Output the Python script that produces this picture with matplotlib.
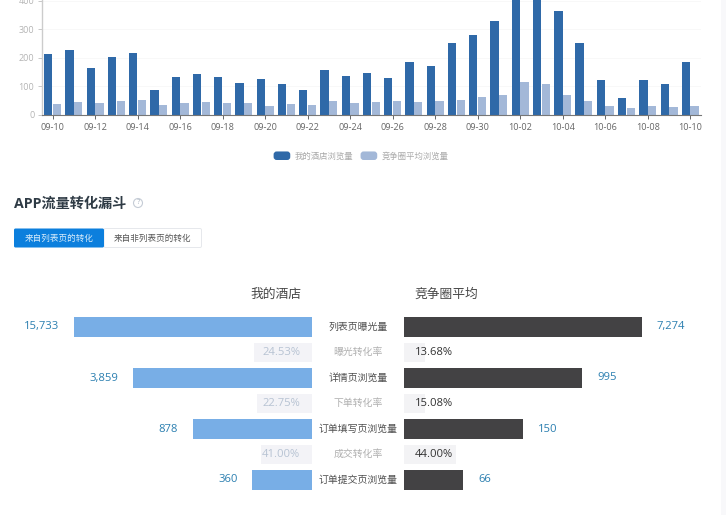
import matplotlib
matplotlib.use("Agg")
import matplotlib.pyplot as plt
from matplotlib.patches import FancyBboxPatch, Rectangle, Circle
from matplotlib.legend_handler import HandlerPatch
import numpy as np

plt.rcParams['font.family'] = ['Open Sans', 'Noto Sans CJK SC', 'DejaVu Sans']

dates = ['09-10','09-11','09-12','09-13','09-14','09-15','09-16','09-17','09-18','09-19','09-20',
         '09-21','09-22','09-23','09-24','09-25','09-26','09-27','09-28','09-29','09-30',
         '10-01','10-02','10-03','10-04','10-05','10-06','10-07','10-08','10-09','10-10']
my_views = [213,228,166,205,219,87,132,143,134,113,126,108,88,156,137,146,130,186,173,251,280,
            329,420,415,365,254,124,58,124,109,186]
comp_views = [40,46,41,49,54,34,43,46,42,43,33,39,36,49,43,46,49,46,50,53,62,
              69,115,108,70,50,32,26,30,27,33]
legend_names = ['我的酒店浏览量', '竞争圈平均浏览量']

stage_names = ['列表页曝光量', '详情页浏览量', '订单填写页浏览量', '订单提交页浏览量']
rate_names = ['曝光转化率', '下单转化率', '成交转化率']
my_counts = ['15,733', '3,859', '878', '360']
comp_counts = ['7,274', '995', '150', '66']
stage_sizes = [4, 3, 2, 1]
my_rates = ['24.53%', '22.75%', '41.00%']
comp_rates = ['13.68%', '15.08%', '44.00%']
my_rate_sizes = [0.98, 0.92, 0.85]
comp_rate_sizes = [0.36, 0.36, 0.88]

W, H = 726, 515
fig = plt.figure(figsize=(W/100, H/100), dpi=100, facecolor='white')

def box(x0, y0, x1, y1):
    return [x0/W, 1-y1/H, (x1-x0)/W, (y1-y0)/H]

class RoundHandler(HandlerPatch):
    def create_artists(self, legend, orig, xd, yd, width, height, fontsize, trans):
        p = FancyBboxPatch((-xd, -yd), width, height, boxstyle='round,pad=0,rounding_size=2.2',
                           fc=orig.get_facecolor(), ec='none', transform=trans)
        return [p]

# overlay in pixel coordinates
bg = fig.add_axes([0, 0, 1, 1], zorder=0)
bg.set_xlim(0, W); bg.set_ylim(H, 0); bg.axis('off')
bg.add_patch(Rectangle((721, 0), 5, H, fc='#f8f8fa', ec='none'))

# daily views
ax = fig.add_axes(box(42, 0, 701, 115), zorder=1)
ax.patch.set_alpha(0)
x = np.arange(len(dates))
b1 = ax.bar(x-0.21, my_views, width=0.39, color='#2F69A8')
b2 = ax.bar(x+0.20, comp_views, width=0.39, color='#A3B8D8')
ax.set_xlim(-0.5, 30.5); ax.set_ylim(0, 403)
ax.set_xticks(x[::2]); ax.set_xticklabels(dates[::2])
ax.set_yticks([0, 100, 200, 300, 400])
ax.tick_params(axis='x', labelsize=6.6, colors='#666666', length=3, width=0.7, pad=3)
ax.tick_params(axis='y', labelsize=6.5, labelcolor='#b4b4b4', color='#c8c8c8', length=3, width=0.7, pad=2.5)
ax.grid(axis='y', color='#f8f8f8', lw=0.7); ax.set_axisbelow(True)
for s in ['top', 'right']:
    ax.spines[s].set_visible(False)
ax.spines['left'].set_color('#cccccc'); ax.spines['left'].set_linewidth(1)
ax.spines['bottom'].set_color('#777777'); ax.spines['bottom'].set_linewidth(0.8)
fig.legend([b1[0], b2[0]], legend_names, loc='center', bbox_to_anchor=(361/W, 1-156/H), ncol=2, frameon=False,
           fontsize=6, labelcolor='#aaaaaa', handlelength=2.0, handleheight=1.2,
           handletextpad=0.5, columnspacing=0.9, borderpad=0, borderaxespad=0,
           handler_map={Rectangle: RoundHandler()})

# title and tabs
bg.text(14, 203.5, 'APP流量转化漏斗', fontsize=10.2, fontweight='bold', color='#2f3b45', va='center', ha='left')
bg.add_patch(Circle((138, 203), 4.5, fc='none', ec='#c5ccd6', lw=0.8))
bg.text(138, 203, '?', fontsize=5.5, color='#aab4c0', ha='center', va='center')
bg.add_patch(FancyBboxPatch((104, 228.5), 97.5, 19, boxstyle='round,pad=0,rounding_size=1.5', fc='white', ec='#e6e8ec', lw=0.7))
bg.add_patch(FancyBboxPatch((14, 228.5), 90, 19, boxstyle='round,pad=0,rounding_size=1.5', fc='#0C7FDD', ec='none'))
bg.text(59, 238, '来自列表页的转化', fontsize=6.2, color='#d8ecfb', ha='center', va='center')
bg.text(152.5, 238, '来自非列表页的转化', fontsize=6.2, color='#555555', ha='center', va='center')

bg.text(275.5, 294, '我的酒店', fontsize=9.2, color='#484848', ha='center', va='center')
bg.text(446.5, 294, '竞争圈平均', fontsize=9.2, color='#484848', ha='center', va='center')

# funnel
axl = fig.add_axes(box(73.7, 314.25, 312, 492.75), zorder=1)
axr = fig.add_axes(box(403.7, 314.25, 642, 492.75), zorder=1)
stage_y = np.arange(len(stage_names))*2
rate_y = stage_y[:-1]+1
for a in (axl, axr):
    a.set_ylim(6.5, -0.5); a.axis('off')
axl.set_xlim(4, 0); axr.set_xlim(0, 4)

axl.barh(stage_y, stage_sizes, height=0.76, color='#78AEE6')
axr.barh(stage_y, stage_sizes, height=0.76, color='#434244')
axl.barh(rate_y, my_rate_sizes, height=0.72, color='#F3F3F7')
axr.barh(rate_y, comp_rate_sizes, height=0.72, color='#F3F3F5')

for y, s, m, c in zip(stage_y, stage_sizes, my_counts, comp_counts):
    axl.annotate(m, (s, y), xytext=(-10.6, 0), textcoords='offset points', ha='right', va='center',
                 fontsize=8.1, color='#2B7FB0', annotation_clip=False)
    axr.annotate(c, (s, y), xytext=(10.6, 0), textcoords='offset points', ha='left', va='center',
                 fontsize=8.1, color='#2B7FB0', annotation_clip=False)
for y, m, c in zip(rate_y, my_rates, comp_rates):
    axl.annotate(m, (0, y), xytext=(-8.6, 0), textcoords='offset points', ha='right', va='center',
                 fontsize=8.1, color='#B7C3D3', annotation_clip=False)
    axr.annotate(c, (0, y), xytext=(8, 0), textcoords='offset points', ha='left', va='center',
                 fontsize=8.1, color='#333333', annotation_clip=False)

for y, n in zip(stage_y, stage_names):
    bg.text(358, 314.25+(y+0.5)*25.5, n, fontsize=7.1, color='#505050', ha='center', va='center')
for y, n in zip(rate_y, rate_names):
    bg.text(358, 314.25+(y+0.5)*25.5, n, fontsize=7.1, color='#b0b0b0', ha='center', va='center')

fig.savefig('out.png', dpi=100)
